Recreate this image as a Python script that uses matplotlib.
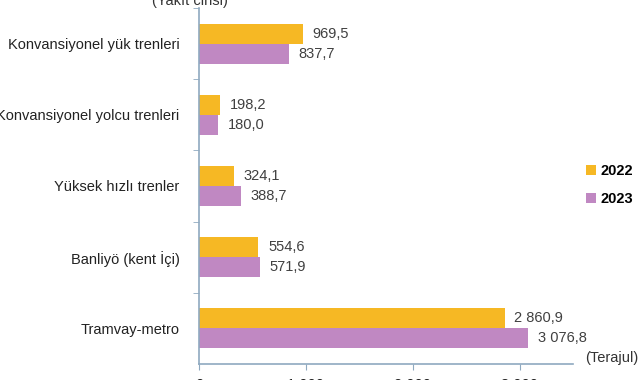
import matplotlib
matplotlib.use("Agg")
import matplotlib.pyplot as plt
from matplotlib.ticker import FixedLocator
import numpy as np

plt.rcParams["font.family"] = ["Liberation Sans", "DejaVu Sans"]

categories = [
    "Konvansiyonel yük trenleri",
    "Konvansiyonel yolcu trenleri",
    "Yüksek hızlı trenler",
    "Banliyö (kent İçi)",
    "Tramvay-metro",
]
values_2022 = [969.5, 198.2, 324.1, 554.6, 2860.9]
values_2023 = [837.7, 180.0, 388.7, 571.9, 3076.8]
series_labels = ["2022", "2023"]
x_ticks = [0, 1000, 2000, 3000]
x_tick_labels = ["0", "1 000", "2 000", "3 000"]

c2022 = "#F6B824"
c2023 = "#C088C2"
axis_col = "#8FA9C0"
text_col = "#333333"


def fmt(v):
    whole, dec = f"{v:.1f}".split(".")
    whole = f"{int(whole):,}".replace(",", " ")
    return f"{whole},{dec}"


fig = plt.figure(figsize=(6.41, 3.80), dpi=100)
ax = fig.add_axes([199 / 641, 16 / 380, 374 / 641, 356 / 380])

n = len(categories)
y = np.arange(n)
h = 0.28
b1 = ax.barh(y - h / 2, values_2022, height=h, color=c2022, label=series_labels[0])
b2 = ax.barh(y + h / 2, values_2023, height=h, color=c2023, label=series_labels[1])

for bars, vals in ((b1, values_2022), (b2, values_2023)):
    for rect, v in zip(bars, vals):
        ax.annotate(fmt(v), (v, rect.get_y() + rect.get_height() / 2),
                    xytext=(7, 0), textcoords="offset points",
                    ha="left", va="center", fontsize=10.5, color="#404040")

ax.set_ylim(n - 0.5, -0.5)
ax.set_xlim(0, 3500)

ax.set_yticks(y)
ax.set_yticklabels(categories, fontsize=10.5, color="#222222")
ax.yaxis.set_minor_locator(FixedLocator(np.arange(-0.5, n - 1, 1.0)))
ax.tick_params(axis="y", which="major", length=0, pad=14)
ax.tick_params(axis="y", which="minor", length=4, color=axis_col, direction="out")

ax.set_xticks(x_ticks)
ax.set_xticklabels(x_tick_labels, fontsize=10.5, color="#222222")
ax.tick_params(axis="x", length=4, color=axis_col, pad=6)

for side in ("top", "right"):
    ax.spines[side].set_visible(False)
for side in ("left", "bottom"):
    ax.spines[side].set_color(axis_col)
    ax.spines[side].set_linewidth(1.2)

fig.text(190 / 641, 1 - 5 / 380, "(Yakıt cinsi)", ha="center", va="baseline",
         fontsize=10.5, color=text_col)
fig.text(585 / 641, 1 - 358 / 380, "(Terajul)", ha="left", va="center",
         fontsize=10.5, color=text_col)

leg = fig.legend(handles=[b1, b2], labels=series_labels, loc="center left",
                 bbox_to_anchor=(586 / 641, 1 - 185 / 380), frameon=False,
                 borderpad=0, borderaxespad=0,
                 handlelength=0.7, handleheight=0.7, handletextpad=0.3,
                 labelspacing=1.0, prop={"weight": "bold", "size": 10.5})

fig.savefig("out.png", dpi=100)
